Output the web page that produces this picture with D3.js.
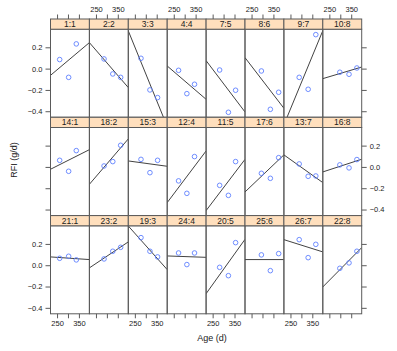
<!DOCTYPE html>
<html>
<head>
<meta charset="utf-8">
<script src="https://cdn.jsdelivr.net/npm/d3@7"></script>
<style>
  body { margin: 0; background: #fff; }
  svg { display: block; }
</style>
</head>
<body>
<div id="chart"></div>
<script>
const width = 397;
const height = 351;

// strip labels, row by row (animal:sow)
const stripLabels = [
    '1:1', '2:2', '3:3', '4:4', '7:5', '8:6', '9:7', '10:8',
    '14:1', '18:2', '15:3', '12:4', '11:5', '17:6', '13:7', '16:8',
    '21:1', '23:2', '19:3', '24:4', '20:5', '25:6', '26:7', '22:8',
];

// test ages (d) shared by each column
const agesByColumn = [
    [262, 303, 338],
    [287, 327, 363],
    [278, 319, 354],
    [272, 310, 345],
    [282, 322, 355],
    [295, 336, 374],
    [290, 331, 366],
    [298, 340, 376],
];

// observed RFI (g/d), one triple per panel
const rfiValues = [
    [0.085, -0.082, 0.232], [0.091, -0.05, -0.082], [0.097, -0.2, -0.272], [-0.016, -0.235, -0.147],
    [-0.013, -0.41, -0.203], [-0.022, -0.382, -0.222], [-0.082, -0.194, 0.319], [-0.034, -0.053, 0.006],
    [0.062, -0.041, 0.153], [0.009, 0.05, 0.203], [0.071, -0.054, 0.062], [-0.131, -0.248, 0.097],
    [-0.173, -0.267, 0.05], [-0.06, -0.107, 0.087], [0.028, -0.088, -0.085], [0.019, -0.009, 0.069],
    [0.065, 0.084, 0.05], [0.059, 0.131, 0.168], [0.259, 0.131, 0.078], [0.115, 0.006, 0.115],
    [-0.02, -0.098, 0.212], [0.097, -0.051, 0.109], [0.24, 0.071, 0.196], [-0.029, 0.022, 0.131],
];

// fitted line: RFI at the first and last age of the x range
const fitStart = [
    -0.063, 0.244, 0.354, 0.025, 0.075, 0.103, -0.528, -0.094,
    -0.022, -0.163, 0.056, -0.335, -0.41, -0.235, 0.113, -0.047,
    0.078, -0.025, 0.368, 0.087, -0.267, 0.053, 0.24, -0.204,
];
const fitEnd = [
    0.244, -0.178, -0.543, -0.288, -0.407, -0.372, 0.356, 0.015,
    0.162, 0.263, 0.006, 0.15, 0.071, 0.113, -0.147, 0.072,
    0.053, 0.219, -0.041, 0.074, 0.243, 0.053, 0.125, 0.165,
];

const ageRange = [220, 398];
const rfiRange = [-0.456, 0.37];
const ageTicks = [250, 300, 350];
const rfiTicks = [-0.4, -0.2, 0, 0.2];

const nCols = 8;
const nRows = 3;
const gridLeft = 50.5;
const panelW = 38.9;
const gridTop = 19;
const stripH = 10.2;
const panelH = 88;
const rowH = stripH + panelH + 0.1;
const gridRight = gridLeft + nCols * panelW;
const borderColor = '#5a5a5a';
const font = '"Liberation Sans", Arial, sans-serif';

const svg = d3.select('#chart')
    .append('svg')
    .attr('width', width)
    .attr('height', height);

const x = d3.scaleLinear().domain(ageRange).range([0, panelW]);
const y = d3.scaleLinear().domain(rfiRange).range([panelH, 0]);

const defs = svg.append('defs');

for (let i = 0; i < stripLabels.length; i++) {
    const row = Math.floor(i / nCols);
    const col = i % nCols;
    const px = gridLeft + col * panelW;
    const sy = gridTop + row * rowH;
    const py = sy + stripH;
    const ages = agesByColumn[col];

    defs.append('clipPath')
        .attr('id', `clip${i}`)
        .append('rect')
        .attr('width', panelW)
        .attr('height', panelH);

    const g = svg.append('g')
        .attr('transform', `translate(${px},${py})`);

    g.append('line')
        .attr('clip-path', `url(#clip${i})`)
        .attr('x1', x(ageRange[0]))
        .attr('y1', y(fitStart[i]))
        .attr('x2', x(ageRange[1]))
        .attr('y2', y(fitEnd[i]))
        .attr('stroke', '#111')
        .attr('stroke-width', 0.8);

    g.selectAll('circle')
        .data(rfiValues[i])
        .enter()
        .append('circle')
        .attr('cx', (d, k) => x(ages[k]))
        .attr('cy', (d) => y(d))
        .attr('r', 2.3)
        .attr('fill', 'none')
        .attr('stroke', '#5f80ff')
        .attr('stroke-width', 0.9);

    g.append('rect')
        .attr('width', panelW)
        .attr('height', panelH)
        .attr('fill', 'none')
        .attr('stroke', borderColor)
        .attr('stroke-width', 1);

    // strip
    const s = svg.append('g')
        .attr('transform', `translate(${px},${sy})`);
    s.append('rect')
        .attr('width', panelW)
        .attr('height', stripH)
        .attr('fill', '#ffdfbd')
        .attr('stroke', borderColor)
        .attr('stroke-width', 1);
    s.append('text')
        .attr('x', panelW / 2)
        .attr('y', stripH / 2 + 3)
        .text(stripLabels[i])
        .style('font-size', '8.5px')
        .style('text-anchor', 'middle')
        .style('font-family', font)
        .style('fill', '#222');
}

const styleAxis = (g) => {
    g.select('.domain').remove();
    g.selectAll('line').attr('stroke', borderColor);
    g.selectAll('text')
        .style('font-size', '7.5px')
        .style('font-family', font)
        .style('fill', '#222');
};

// x axes on top and bottom, labels alternate by column
for (let col = 0; col < nCols; col++) {
    const px = gridLeft + col * panelW;
    svg.append('g')
        .attr('class', 'xAxisTop')
        .attr('transform', `translate(${px},${gridTop})`)
        .call(d3.axisTop(x).tickValues(ageTicks).tickSize(4.5).tickPadding(3)
            .tickFormat((d) => (col % 2 === 1 && d !== 300 ? d : '')))
        .call(styleAxis);

    svg.append('g')
        .attr('class', 'xAxisBottom')
        .attr('transform', `translate(${px},${gridTop + nRows * rowH - 0.1})`)
        .call(d3.axisBottom(x).tickValues(ageTicks).tickSize(4.5).tickPadding(2)
            .tickFormat((d) => (col % 2 === 0 && d !== 300 ? d : '')))
        .call(styleAxis);
}

// y axes on both sides, labels alternate by row
for (let row = 0; row < nRows; row++) {
    const py = gridTop + row * rowH + stripH;
    svg.append('g')
        .attr('class', 'yAxisLeft')
        .attr('transform', `translate(${gridLeft},${py})`)
        .call(d3.axisLeft(y).tickValues(rfiTicks).tickSize(5).tickPadding(3)
            .tickFormat((d) => (row % 2 === 0 ? d3.format('.1f')(d) : '')))
        .call(styleAxis);

    svg.append('g')
        .attr('class', 'yAxisRight')
        .attr('transform', `translate(${gridRight},${py})`)
        .call(d3.axisRight(y).tickValues(rfiTicks).tickSize(5).tickPadding(3)
            .tickFormat((d) => (row % 2 === 1 ? d3.format('.1f')(d) : '')))
        .call(styleAxis);
}

svg.append('text')
    .attr('class', 'xlabel')
    .attr('x', 212)
    .attr('y', 341)
    .text('Age (d)')
    .style('font-size', '9px')
    .style('text-anchor', 'middle')
    .style('font-family', font)
    .style('fill', '#222');

svg.append('text')
    .attr('class', 'ylabel')
    .attr('x', -160)
    .attr('y', 16.5)
    .text('RFI (g/d)')
    .attr('transform', 'rotate(-90)')
    .style('font-size', '9px')
    .style('text-anchor', 'middle')
    .style('font-family', font)
    .style('fill', '#222');
</script>
</body>
</html>
